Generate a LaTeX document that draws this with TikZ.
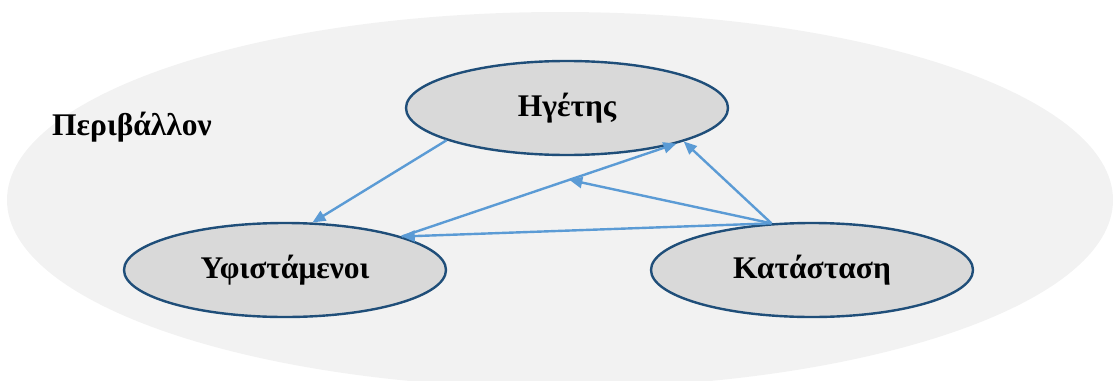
\documentclass[tikz,border=0pt]{standalone}
\usepackage{fontspec}
\setmainfont{Liberation Serif}
\usepackage{xcolor}
\usetikzlibrary{arrows.meta,shapes.geometric}
\definecolor{envgray}{HTML}{F2F2F2}
\definecolor{nodegray}{HTML}{D9D9D9}
\definecolor{rimblue}{HTML}{1F4E79}
\definecolor{linkblue}{HTML}{5B9BD5}

\begin{document}
\begin{tikzpicture}[x=1pt, y=-1pt,
    actor/.style={draw=rimblue, line width=2.4pt, fill=nodegray, ellipse,
      minimum width=322pt, minimum height=94pt, inner sep=0pt,
      font=\bfseries\fontsize{31.5}{36}\selectfont},
    link/.style={-{Triangle[length=13pt, width=11pt]}, draw=linkblue, line width=2.4pt}]
    \clip (0,0) rectangle (1113,380);
    % Environment
    \fill[envgray] (560,200) ellipse [x radius=553, y radius=188];
    \node[font=\bfseries\fontsize{31.5}{36}\selectfont] (env) at (132,127) {Περιβάλλον};
    % Nodes
    \node[actor] (leader) at (567,108) {Ηγέτης};
    \node[actor] (staff) at (285,270) {Υφιστάμενοι};
    \node[actor] (situation) at (812,270) {Κατάσταση};

    % Paths
    \draw[link] (leader.195) -- (staff.60);
    \draw[link] (staff.16) -- coordinate[pos=0.61] (mid) (leader.342);
    \draw[link] (situation.131) -- (staff.16);
    \draw[link] (situation.131) -- (mid);
    \draw[link] (situation.131) -- (leader.344);
  \end{tikzpicture}
\end{document}
